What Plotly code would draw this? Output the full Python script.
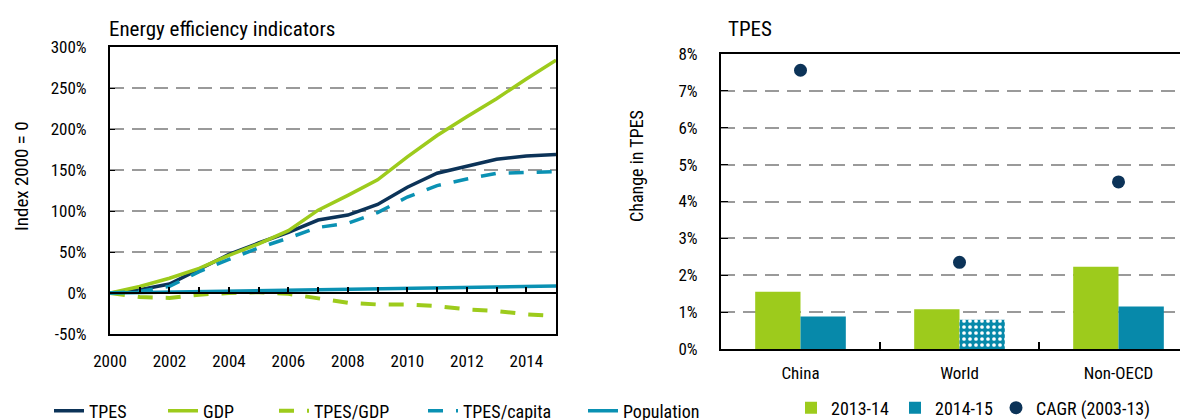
import plotly.graph_objects as go

# ---- data -------------------------------------------------------------
years = list(range(2000, 2016))
tpes = [0, 4, 11, 29, 47, 61, 74, 89, 95, 108, 129, 146, 155, 163, 167, 169]
gdp = [0, 8, 18, 30, 46, 60, 76, 101, 119, 138, 166, 192, 215, 237, 261, 284]
tpes_gdp = [0, -5, -6, -2, 0, 1, -1, -7, -12, -14, -14, -16, -20, -22, -26, -28]
tpes_capita = [0, 2, 8, 26, 41, 55, 67, 80, 85, 98, 117, 131, 139, 146, 147, 148]
population = [0, 0.6, 1.2, 1.8, 2.4, 3.0, 3.6, 4.2, 4.8, 5.3, 5.9, 6.4, 7.0, 7.5, 8.0, 8.5]

left_yticks = [-50, 0, 50, 100, 150, 200, 250, 300]
left_yticktext = ["-50%", "0%", "50%", "100%", "150%", "200%", "250%", "300%"]
left_xticks = [2000, 2002, 2004, 2006, 2008, 2010, 2012, 2014]

regions = ["China", "World", "Non-OECD"]
change_2013_14 = [1.55, 1.08, 2.23]
change_2014_15 = [0.88, 0.79, 1.15]
cagr_2003_13 = [7.56, 2.35, 4.53]
right_yticks = [0, 1, 2, 3, 4, 5, 6, 7, 8]
right_yticktext = ["0%", "1%", "2%", "3%", "4%", "5%", "6%", "7%", "8%"]

# ---- style ------------------------------------------------------------
NAVY = "#0c3358"
GREEN = "#9dcb1c"
TEAL = "#0789aa"
TEAL_LINE = "#0a91b3"
GRID = "#9a9a9a"
FONT = "Roboto Condensed, Liberation Sans Narrow, sans-serif"
W, H = 1188, 420
PAGE_OFFSET = 8  # the html body margin shifts the figure by 8px


def px_x(p):
    return (p - PAGE_OFFSET) / W


def px_y(p):
    return 1 - (p - PAGE_OFFSET) / H


fig = go.Figure()

line_w = 3.5
dash = "15px,13px"
fig.add_trace(go.Scatter(x=years, y=tpes, name="TPES", mode="lines",
                         line=dict(color=NAVY, width=line_w), legend="legend"))
fig.add_trace(go.Scatter(x=years, y=gdp, name="GDP", mode="lines",
                         line=dict(color=GREEN, width=line_w), legend="legend2"))
fig.add_trace(go.Scatter(x=years, y=tpes_gdp, name="TPES/GDP", mode="lines",
                         line=dict(color=GREEN, width=4, dash=dash), legend="legend3"))
fig.add_trace(go.Scatter(x=years, y=tpes_capita, name="TPES/capita", mode="lines",
                         line=dict(color=TEAL_LINE, width=line_w, dash=dash),
                         legend="legend4"))
# population sits on the overlaid axis that draws the 0% line with ticks
fig.add_trace(go.Scatter(x=years, y=population, name="Population", mode="lines",
                         line=dict(color=TEAL_LINE, width=line_w), legend="legend5",
                         xaxis="x2", yaxis="y"))

fig.add_trace(go.Bar(x=regions, y=change_2013_14, name="2013-14", marker_color=GREEN,
                     marker_line_width=0, xaxis="x3", yaxis="y3", legend="legend6"))
fig.add_trace(go.Bar(x=regions, y=change_2014_15, name="2014-15", marker_color=TEAL,
                     marker_line_width=0,
                     marker_pattern=dict(shape=["", ".", ""], fgcolor="white", bgcolor=TEAL,
                                         size=6, solidity=0.3, fillmode="replace"),
                     xaxis="x3", yaxis="y3", legend="legend7"))
fig.add_trace(go.Scatter(x=regions, y=cagr_2003_13, name="CAGR (2003-13)", mode="markers",
                         marker=dict(color=NAVY, size=13), xaxis="x3", yaxis="y3",
                         legend="legend8"))

left_dom_y = [px_y(334), px_y(47)]
left_dom_x = [px_x(110), px_x(556)]
zero_pos = left_dom_y[0] + (left_dom_y[1] - left_dom_y[0]) * 50 / 350

axis_font = dict(family=FONT, size=17, color="black")

# legend text start positions (window px) and centre heights
legend_spots = {
    "legend": (88, 411), "legend2": (202, 411), "legend3": (313, 411),
    "legend4": (462, 411), "legend5": (622, 411),
    "legend6": (830, 408), "legend7": (934, 408), "legend8": (1035, 408),
}
legends = {
    key: dict(orientation="h", x=px_x(tx - 39), y=px_y(ty), xanchor="left",
              yanchor="middle", font=dict(family=FONT, size=18, color="black"),
              bgcolor="rgba(0,0,0,0)", itemwidth=30)
    for key, (tx, ty) in legend_spots.items()
}

fig.update_layout(
    width=W, height=H,
    margin=dict(l=0, r=0, t=0, b=0, autoexpand=False),
    paper_bgcolor="white", plot_bgcolor="white",
    font=dict(family=FONT, size=17, color="black"),
    showlegend=True,
    barmode="group", bargap=0.43, bargroupgap=0,
    xaxis=dict(domain=left_dom_x, range=[2000, 2015], tickvals=left_xticks,
               showgrid=False, zeroline=False, showline=True, linecolor="black",
               linewidth=2, mirror=True, ticks="", tickfont=axis_font,
               ticklabelstandoff=11, anchor="y", automargin=False),
    xaxis2=dict(overlaying="x", range=[2000, 2015], anchor="free", position=zero_pos,
                dtick=1, tick0=2000, showticklabels=False, showgrid=False, zeroline=False,
                showline=True, linecolor="black", linewidth=2, ticks="inside",
                ticklen=5, tickwidth=1.5, tickcolor="black", automargin=False),
    yaxis=dict(domain=left_dom_y, range=[-50, 300], tickvals=left_yticks,
               ticktext=left_yticktext, showgrid=True, gridcolor=GRID, griddash="14px,8px",
               gridwidth=1.5, zeroline=False, showline=True, linecolor="black",
               linewidth=2, mirror=True, ticks="inside", ticklen=5, tickcolor="black",
               tickfont=axis_font, ticklabelstandoff=18, anchor="x", automargin=False),
    xaxis3=dict(domain=[px_x(721), 1], range=[-0.5, 2.5 - 2 / 159], type="category",
                tickson="boundaries", ticks="inside", ticklen=7, tickwidth=1.5,
                tickcolor="black", showgrid=False, zeroline=False, showline=True,
                linecolor="black", linewidth=2, mirror=True, tickfont=axis_font,
                ticklabelstandoff=8, anchor="y3", automargin=False),
    yaxis3=dict(domain=[px_y(349), px_y(54)], range=[0, 8], tickvals=right_yticks,
                ticktext=right_yticktext, showgrid=True, gridcolor=GRID,
                griddash="14px,8px", gridwidth=1.5, zeroline=False, showline=True,
                linecolor="black", linewidth=2, ticks="inside", ticklen=7,
                tickcolor="black", tickfont=axis_font, ticklabelstandoff=18, anchor="x3",
                automargin=False),
    annotations=[
        dict(text="Energy efficiency indicators", x=px_x(107), y=px_y(29),
             xref="paper", yref="paper", xanchor="left", yanchor="middle",
             showarrow=False, font=dict(family=FONT, size=21, color="black")),
        dict(text="TPES", x=px_x(726), y=px_y(29), xref="paper", yref="paper",
             xanchor="left", yanchor="middle", showarrow=False,
             font=dict(family=FONT, size=21, color="black")),
        dict(text="Index 2000 = 0", x=px_x(21), y=px_y(176), xref="paper", yref="paper",
             xanchor="center", yanchor="middle", textangle=-90, showarrow=False,
             font=dict(family=FONT, size=19, color="black")),
        dict(text="Change in TPES", x=px_x(636), y=px_y(166), xref="paper", yref="paper",
             xanchor="center", yanchor="middle", textangle=-90, showarrow=False,
             font=dict(family=FONT, size=18, color="black")),
    ],
    **legends,
)

fig.write_html("out.html")
